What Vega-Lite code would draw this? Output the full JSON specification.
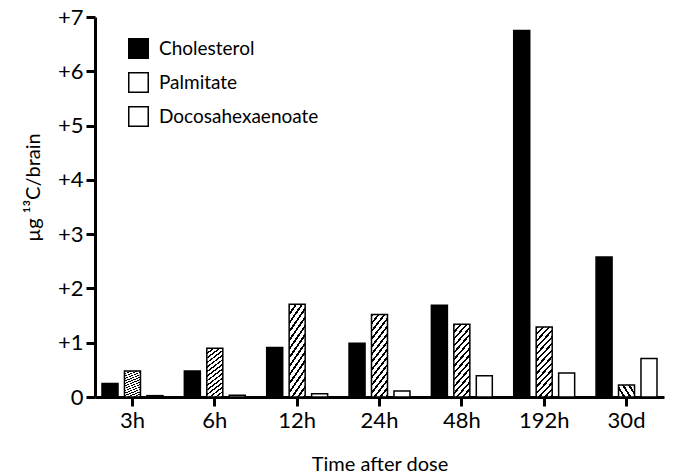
{
  "$schema": "https://vega.github.io/schema/vega-lite/v6.json",
  "width": 569,
  "height": 380,
  "autosize": "none",
  "padding": {"left": 95, "top": 17, "right": 11, "bottom": 78},
  "background": "white",
  "config": {
    "view": {"stroke": null},
    "font": "Lato",
    "axis": {
      "domainColor": "black",
      "domainWidth": 3,
      "tickColor": "black",
      "tickWidth": 3,
      "tickSize": 9,
      "grid": false,
      "labelColor": "black",
      "labelFont": "Lato",
      "labelFontSize": 22,
      "titleColor": "black",
      "titleFont": "Lato",
      "titleFontSize": 20,
      "titleFontWeight": "normal"
    }
  },
  "data": {
    "values": [
      {"time": "3h", "series": "Cholesterol", "value": 0.25},
      {"time": "3h", "series": "Palmitate", "value": 0.48},
      {"time": "3h", "series": "Docosahexaenoate", "value": 0.025},
      {"time": "6h", "series": "Cholesterol", "value": 0.48},
      {"time": "6h", "series": "Palmitate", "value": 0.90},
      {"time": "6h", "series": "Docosahexaenoate", "value": 0.03},
      {"time": "12h", "series": "Cholesterol", "value": 0.91},
      {"time": "12h", "series": "Palmitate", "value": 1.71},
      {"time": "12h", "series": "Docosahexaenoate", "value": 0.06},
      {"time": "24h", "series": "Cholesterol", "value": 0.99},
      {"time": "24h", "series": "Palmitate", "value": 1.52},
      {"time": "24h", "series": "Docosahexaenoate", "value": 0.11},
      {"time": "48h", "series": "Cholesterol", "value": 1.69},
      {"time": "48h", "series": "Palmitate", "value": 1.34},
      {"time": "48h", "series": "Docosahexaenoate", "value": 0.39},
      {"time": "192h", "series": "Cholesterol", "value": 6.75},
      {"time": "192h", "series": "Palmitate", "value": 1.29},
      {"time": "192h", "series": "Docosahexaenoate", "value": 0.44},
      {"time": "30d", "series": "Cholesterol", "value": 2.58},
      {"time": "30d", "series": "Palmitate", "value": 0.22},
      {"time": "30d", "series": "Docosahexaenoate", "value": 0.71}
    ]
  },
  "mark": {"type": "bar", "stroke": "black", "strokeWidth": 1.5},
  "encoding": {
    "x": {
      "field": "time",
      "type": "nominal",
      "sort": ["3h", "6h", "12h", "24h", "48h", "192h", "30d"],
      "scale": {"paddingInner": 0.26, "paddingOuter": 0.085},
      "title": "Time after dose",
      "axis": {"labelAngle": 0, "labelPadding": 4, "titlePadding": 23}
    },
    "xOffset": {
      "field": "series",
      "sort": ["Cholesterol", "Palmitate", "Docosahexaenoate"],
      "scale": {"paddingInner": 0.287, "paddingOuter": 0}
    },
    "y": {
      "field": "value",
      "type": "quantitative",
      "scale": {"domain": [0, 7], "nice": false},
      "title": "µg ¹³C/brain",
      "axis": {
        "values": [0, 1, 2, 3, 4, 5, 6, 7],
        "labelExpr": "datum.value === 0 ? '0' : '+' + datum.value",
        "labelPadding": 3,
        "titlePadding": 14,
        "titleY": 170
      }
    },
    "fill": {
      "condition": {
        "test": "datum.series === 'Palmitate'",
        "value": {
          "gradient": "linear", "x1": 0, "y1": 0, "x2": 1, "y2": 4,
          "stops": [
            {"offset": 0, "color": "black"}, {"offset": 0.008, "color": "black"}, {"offset": 0.008, "color": "white"}, {"offset": 0.022, "color": "white"},
            {"offset": 0.022, "color": "black"}, {"offset": 0.030, "color": "black"}, {"offset": 0.030, "color": "white"}, {"offset": 0.044, "color": "white"},
            {"offset": 0.044, "color": "black"}, {"offset": 0.052, "color": "black"}, {"offset": 0.052, "color": "white"}, {"offset": 0.066, "color": "white"},
            {"offset": 0.066, "color": "black"}, {"offset": 0.074, "color": "black"}, {"offset": 0.074, "color": "white"}, {"offset": 0.088, "color": "white"},
            {"offset": 0.088, "color": "black"}, {"offset": 0.096, "color": "black"}, {"offset": 0.096, "color": "white"}, {"offset": 0.110, "color": "white"},
            {"offset": 0.110, "color": "black"}, {"offset": 0.118, "color": "black"}, {"offset": 0.118, "color": "white"}, {"offset": 0.132, "color": "white"},
            {"offset": 0.132, "color": "black"}, {"offset": 0.140, "color": "black"}, {"offset": 0.140, "color": "white"}, {"offset": 0.154, "color": "white"},
            {"offset": 0.154, "color": "black"}, {"offset": 0.162, "color": "black"}, {"offset": 0.162, "color": "white"}, {"offset": 0.176, "color": "white"},
            {"offset": 0.176, "color": "black"}, {"offset": 0.184, "color": "black"}, {"offset": 0.184, "color": "white"}, {"offset": 0.198, "color": "white"},
            {"offset": 0.198, "color": "black"}, {"offset": 0.206, "color": "black"}, {"offset": 0.206, "color": "white"}, {"offset": 0.220, "color": "white"},
            {"offset": 0.220, "color": "black"}, {"offset": 0.228, "color": "black"}, {"offset": 0.228, "color": "white"}, {"offset": 0.242, "color": "white"},
            {"offset": 0.242, "color": "black"}, {"offset": 0.250, "color": "black"}, {"offset": 0.250, "color": "white"}, {"offset": 0.264, "color": "white"},
            {"offset": 0.264, "color": "black"}, {"offset": 0.272, "color": "black"}, {"offset": 0.272, "color": "white"}, {"offset": 0.286, "color": "white"},
            {"offset": 0.286, "color": "black"}, {"offset": 0.294, "color": "black"}, {"offset": 0.294, "color": "white"}, {"offset": 1, "color": "white"}
          ]
        }
      },
      "field": "series",
      "type": "nominal",
      "scale": {
        "domain": ["Cholesterol", "Palmitate", "Docosahexaenoate"],
        "range": ["black", "white", "white"]
      },
      "legend": {
        "title": null,
        "orient": "none",
        "legendX": 33,
        "legendY": 21,
        "symbolType": "square",
        "symbolSize": 380,
        "symbolStrokeColor": "black",
        "symbolStrokeWidth": 1.5,
        "symbolOpacity": 1,
        "labelFont": "Lato",
        "labelFontSize": 19,
        "labelColor": "black",
        "labelOffset": 10,
        "rowPadding": 7,
        "encode": {
          "symbols": {
            "update": {
              "stroke": {"value": "black"},
              "strokeWidth": {"value": 1.5},
              "opacity": {"value": 1}
            }
          }
        }
      }
    }
  }
}
